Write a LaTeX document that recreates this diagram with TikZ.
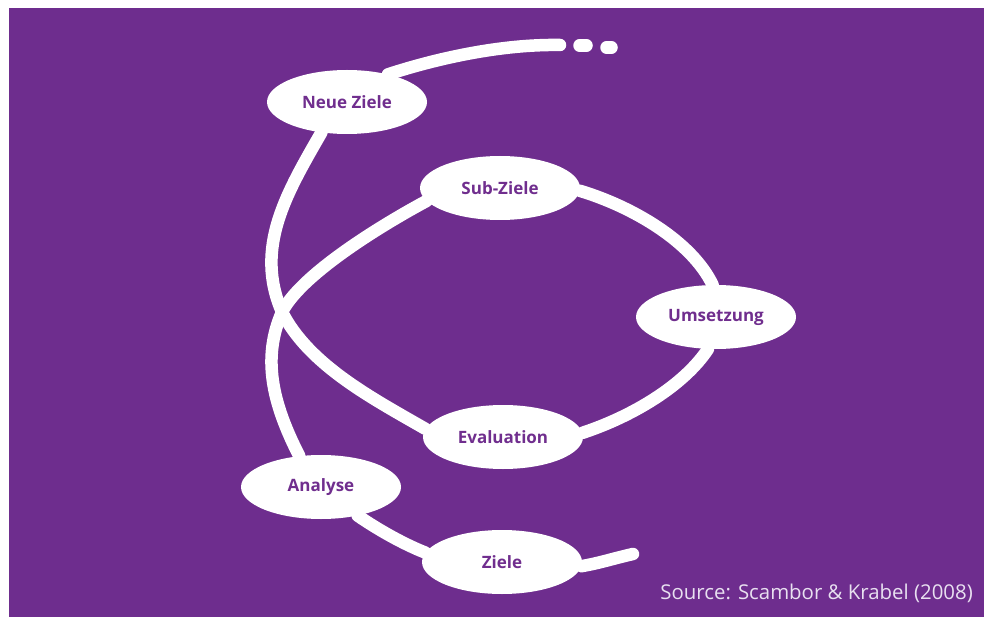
\documentclass[tikz,border=0pt]{standalone}
\usepackage{fontspec}
\setmainfont{Open Sans}
\usetikzlibrary{shapes.geometric}
\pgfdeclarelayer{canvas}
\pgfdeclarelayer{lines}
\pgfsetlayers{canvas,lines,main}
\definecolor{bgpurple}{RGB}{110,45,142}
\definecolor{txtpurple}{RGB}{112,46,142}
\definecolor{captioncol}{RGB}{232,224,240}
\tikzset{
  stagebox/.style={ellipse, fill=white, minimum width=160pt, minimum height=64pt, inner sep=0pt,
    text=txtpurple, font=\fontsize{17}{20}\selectfont\bfseries},
  stroke/.style={draw=white, line width=12.5pt, line cap=round, line join=round},
}
\begin{document}
\begin{tikzpicture}[x=1pt, y=-1pt]
\useasboundingbox (0,0) rectangle (984,617);
\begin{pgfonlayer}{canvas}
\fill[white] (0,0) rectangle (984,617);
\fill[bgpurple] (9,8) rectangle (984,617);
\end{pgfonlayer}

% stage nodes
\node[stagebox] (nz) at (347,102) {Neue Ziele};
\node[stagebox] (sz) at (500,188) {Sub-Ziele};
\node[stagebox] (um) at (716,317) {Umsetzung};
\node[stagebox] (ev) at (503,437) {Evaluation};
\node[stagebox] (an) at (321,487) {Analyse};
\node[stagebox] (zi) at (502,562) {Ziele};

% free ends and crossing point
\coordinate (topend) at (560,45);
\coordinate (d1a) at (579.5,45.5);
\coordinate (d1b) at (586.5,45.5);
\coordinate (d2a) at (606.5,47.5);
\coordinate (d2b) at (611.5,47.5);
\coordinate (ziend) at (633,554);
\coordinate (cross) at (282,312);

% connectors (behind the ellipses)
\begin{pgfonlayer}{lines}
\draw[stroke] (nz.34) .. controls (435,59) and (500,44) .. (topend);
\draw[stroke] (d1a) -- (d1b);
\draw[stroke] (d2a) -- (d2b);
\draw[stroke] (nz.230) .. controls (286.5,193.2) and (254,247.6) .. (cross)
                       .. controls (309,365.4) and (373.4,398.9) .. (ev.174);
\draw[stroke] (sz.190) .. controls (373.8,229.4) and (300,276.4) .. (cross)
                       .. controls (262,358) and (272,402.6) .. (an.125);
\draw[stroke] (sz.358) .. controls (632,206.5) and (691.5,241) .. (um.96);
\draw[stroke] (um.256) .. controls (683.7,385.8) and (632,416.5) .. (ev.3);
\draw[stroke] (an.322) .. controls (378.5,530) and (404.5,544.5) .. (zi.173);
\draw[stroke] (zi.357) .. controls (600,563) and (615,558) .. (ziend);
\end{pgfonlayer}

\node[anchor=base east, text=captioncol, font=\fontsize{20.4}{24}\selectfont, inner sep=0pt] (src) at (973,599) {Source: Scambor \& Krabel (2008)};
\end{tikzpicture}
\end{document}
